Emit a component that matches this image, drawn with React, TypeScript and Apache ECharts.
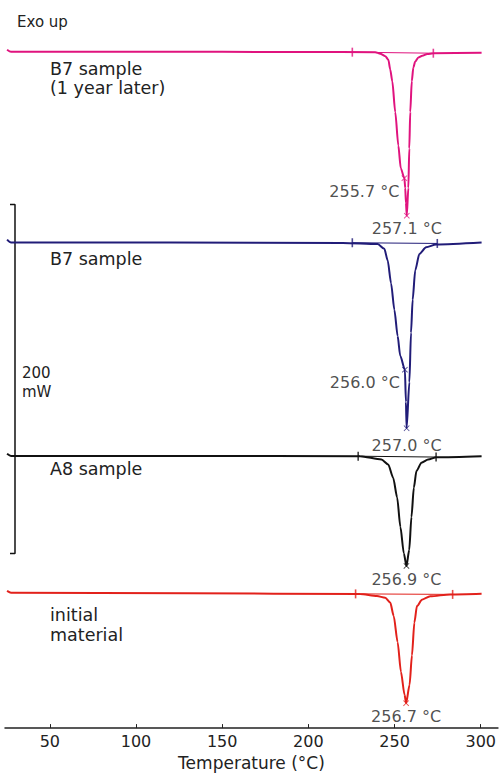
import React, { useEffect, useRef } from "react";
import * as echarts from "echarts";

// DSC heating curves: [temperature °C, heat flow mW], each trace offset vertically (exo up)
const pinkCurve: [number, number][] = [
  [25.2, 388.7], [27.5, 387.5], [100, 387.6], [200, 387.4], [238.8, 387.3], [241.7, 386.4],
  [244.6, 385.0], [246.4, 383.0], [247.5, 377.4], [248.7, 370.6], [250.4, 353.0], [252.2, 333.8],
  [253.6, 320.8], [255.7, 315.1], [256.2, 309.5], [256.6, 301.0], [257.1, 293.6], [258.0, 309.5],
  [258.55, 332.1], [259.1, 353.0], [260.0, 370.6], [260.9, 378.5], [262.0, 381.9], [263.8, 384.2],
  [266.1, 385.3], [269.0, 386.2], [272.5, 386.7], [300.5, 387.0],
];
const navyCurve: [number, number][] = [
  [25.2, 279.9], [27.5, 278.2], [120, 278.2], [220, 278.0], [240.2, 277.4], [244.1, 274.6],
  [246.0, 268.0], [248.0, 254.8], [249.9, 239.7], [251.8, 224.6], [253.3, 213.3], [256.0, 205.4],
  [256.6, 186.9], [257.0, 171.8], [258.6, 198.2], [259.55, 226.5], [260.5, 245.4], [262.0, 262.3],
  [264.4, 271.7], [268.3, 275.5], [274.1, 277.1], [300.5, 278.2],
];
const blackCurve: [number, number][] = [
  [25.2, 157.2], [27.5, 155.9], [130, 155.9], [230, 155.8], [242.4, 153.9], [246.3, 151.1],
  [249.2, 143.5], [251.5, 132.2], [253.4, 115.2], [255.4, 100.1], [256.9, 92.9], [258.5, 102.0],
  [259.8, 120.9], [261.2, 137.8], [262.7, 147.3], [265.6, 152.0], [269.5, 153.9], [274.3, 155.2],
  [300.5, 155.8],
];
const redCurve: [number, number][] = [
  [25.2, 78.6], [27.5, 77.5], [130, 77.3], [230, 76.8], [239.8, 75.7], [244.6, 74.7],
  [247.5, 71.9], [249.5, 64.3], [251.8, 49.2], [253.7, 32.3], [255.8, 19.1], [256.7, 14.3],
  [258.7, 24.7], [260.1, 41.7], [261.5, 60.5], [263.0, 69.9], [265.9, 73.6], [270.7, 75.5],
  [282.3, 76.6], [300.5, 77.0],
];

// Integration limits of each melting endotherm
const pinkLimits: [number, number][] = [[225.5, 387.3], [272.5, 386.7]];
const navyLimits: [number, number][] = [[225.5, 278.1], [274.8, 277.7]];
const blackLimits: [number, number][] = [[228.9, 155.8], [274.1, 155.3]];
const redLimits: [number, number][] = [[227.4, 76.9], [283.7, 76.6]];

// Marked shoulders and peak minima
const pinkShoulders: [number, number][] = [[255.7, 315.1]];
const pinkPeaks: [number, number][] = [[257.1, 293.6]];
const navyShoulders: [number, number][] = [[256.0, 205.4]];
const navyPeaks: [number, number][] = [[257.0, 171.8]];
const blackPeaks: [number, number][] = [[256.9, 92.9]];
const redPeaks: [number, number][] = [[256.7, 14.3]];

// 200 mW scale bar
const scaleBar: [number, number][] = [[26.9, 300], [29.8, 300], [29.8, 100], [26.9, 100]];

const tempTicks = [50, 100, 150, 200, 250, 300];

const FONT = '"DejaVu Sans", sans-serif';
const TEXT = "#222222";
const CROSS = "path://M0 1L1 0L5 4L9 0L10 1L6 5L10 9L9 10L5 6L1 10L0 9L4 5Z";

type Trace = {
  name: string;
  color: string;
  curve: [number, number][];
  limits: [number, number][];
  shoulders: [number, number][];
  peaks: [number, number][];
  peakOffset: number;
};

const traces: Trace[] = [
  { name: "B7 1y", color: "#e0137e", curve: pinkCurve, limits: pinkLimits, shoulders: pinkShoulders, peaks: pinkPeaks, peakOffset: 0 },
  { name: "B7", color: "#211c78", curve: navyCurve, limits: navyLimits, shoulders: navyShoulders, peaks: navyPeaks, peakOffset: 4 },
  { name: "A8", color: "#111111", curve: blackCurve, limits: blackLimits, shoulders: [], peaks: blackPeaks, peakOffset: 1 },
  { name: "initial", color: "#e2211b", curve: redCurve, limits: redLimits, shoulders: [], peaks: redPeaks, peakOffset: 0 },
];

const tempLabel = (p: any) => `${p.value[0].toFixed(1)} °C`;

function buildSeries() {
  const series: any[] = [];
  traces.forEach((t) => {
    series.push({
      name: t.name,
      type: "line",
      data: t.curve,
      showSymbol: false,
      smooth: 0.25,
      smoothMonotone: "x",
      lineStyle: { color: t.color, width: 2 },
      z: 3,
    });
    series.push({
      type: "line",
      data: t.limits,
      showSymbol: false,
      lineStyle: { color: t.color, width: 1 },
      z: 2,
    });
    series.push({
      type: "scatter",
      data: t.limits,
      symbol: "rect",
      symbolSize: [1.6, 9],
      itemStyle: { color: t.color },
      z: 4,
    });
    const marks: any[] = [];
    t.shoulders.forEach((v) =>
      marks.push({
        value: v,
        label: { show: true, position: "left", distance: 2, offset: [0, 13] },
      })
    );
    t.peaks.forEach((v) =>
      marks.push({
        value: v,
        label: { show: true, position: "bottom", distance: 2, offset: [0, t.peakOffset] },
      })
    );
    series.push({
      type: "scatter",
      data: marks,
      symbol: CROSS,
      symbolSize: 6,
      itemStyle: { color: t.color },
      label: {
        formatter: tempLabel,
        color: TEXT,
        fontFamily: FONT,
        fontSize: 16,
      },
      z: 5,
    });
  });
  series.push({
    type: "line",
    data: scaleBar,
    showSymbol: false,
    lineStyle: { color: "#111111", width: 1.5 },
    z: 2,
  });
  return series;
}

const textEl = (text: string, x: number, y: number, size: number) => ({
  type: "text",
  x,
  y,
  style: {
    text,
    fill: TEXT,
    fontFamily: FONT,
    fontSize: size,
    verticalAlign: "middle",
    align: "left",
  },
});

export default function App() {
  const ref = useRef<HTMLDivElement>(null);

  useEffect(() => {
    if (!ref.current) return;
    const chart = echarts.init(ref.current, null, { renderer: "svg" });
    chart.setOption({
      animation: false,
      backgroundColor: "#ffffff",
      grid: { left: 5, right: 0, top: 30, bottom: 39 },
      xAxis: {
        type: "value",
        min: 24,
        max: 310,
        name: "Temperature (°C)",
        nameLocation: "middle",
        nameGap: 21,
        nameTextStyle: { color: TEXT, fontFamily: FONT, fontSize: 17 },
        axisLine: { lineStyle: { color: "#222222", width: 1.5 } },
        axisTick: { inside: true, length: 4, customValues: tempTicks, lineStyle: { color: "#222222" } },
        axisLabel: { customValues: tempTicks, color: TEXT, fontFamily: FONT, fontSize: 16, margin: 5 },
        splitLine: { show: false },
      },
      yAxis: {
        type: "value",
        min: 0,
        max: 400,
        show: false,
      },
      graphic: [
        textEl("Exo up", 17, 22, 15),
        textEl("B7 sample", 50, 69, 17.5),
        textEl("(1 year later)", 50, 88, 17.5),
        textEl("B7 sample", 50, 259, 17.5),
        textEl("A8 sample", 50, 469, 17.5),
        textEl("initial", 50, 615, 17.5),
        textEl("material", 50, 635, 17.5),
        textEl("200", 22, 373, 15),
        textEl("mW", 22, 392, 15),
      ],
      series: buildSeries(),
    });
    return () => chart.dispose();
  }, []);

  return (
    <div
      ref={ref}
      style={{ position: "fixed", left: 0, top: 0, width: 499, height: 776, background: "#fff" }}
    />
  );
}
